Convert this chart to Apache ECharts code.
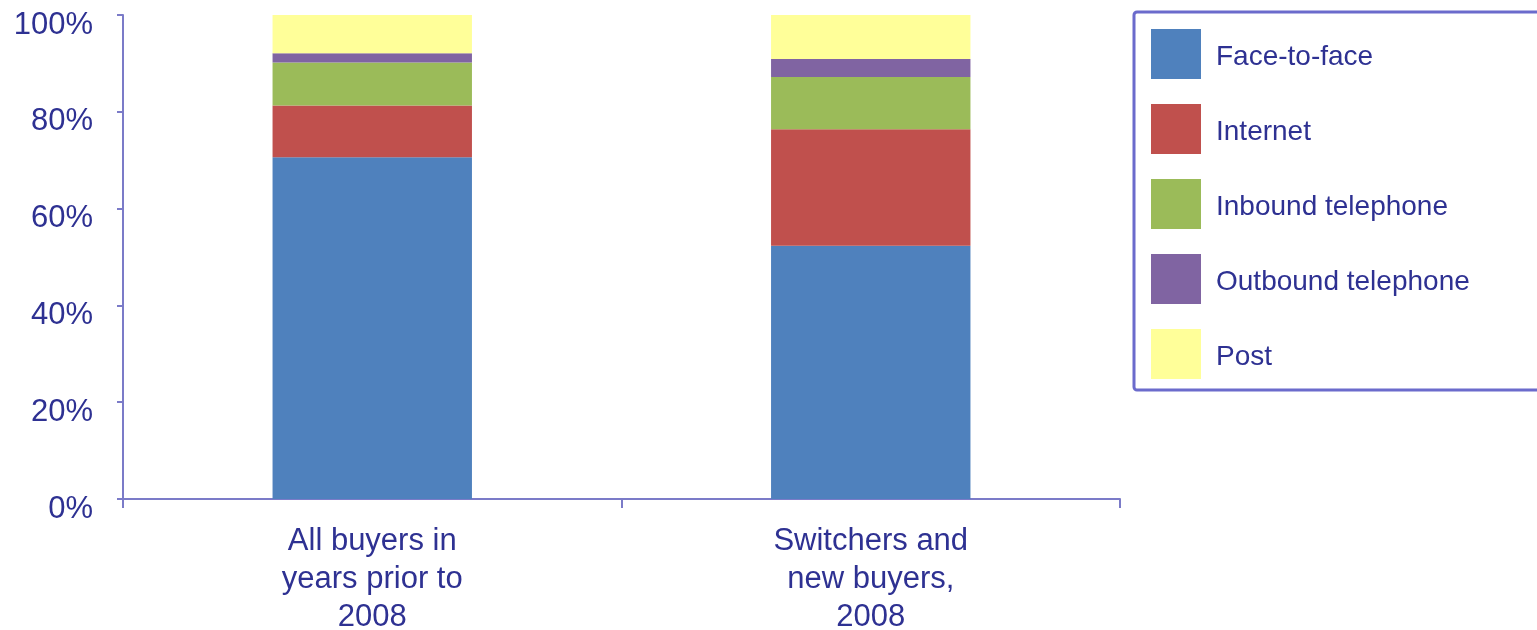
<!DOCTYPE html>
<html>
<head>
<meta charset="utf-8">
<script src="https://cdn.jsdelivr.net/npm/echarts@6/dist/echarts.min.js"></script>
<style>
  html, body { margin: 0; padding: 0; background: #fff; }
  #chart { width: 1537px; height: 630px; }
</style>
</head>
<body>
<div id="chart"></div>
<script>
  var categories = ['All buyers in\nyears prior to\n2008', 'Switchers and\nnew buyers,\n2008'];
  var seriesNames = ['Face-to-face', 'Internet', 'Inbound telephone', 'Outbound telephone', 'Post'];
  var faceToFace = [70.6, 52.3];
  var internet = [10.7, 24.1];
  var inbound = [8.9, 10.8];
  var outbound = [1.9, 3.7];
  var post = [7.9, 9.1];
  var colors = ['#4f81bd', '#c0504d', '#9bbb59', '#8064a2', '#ffff99'];

  var textColor = '#2e3192';
  var axisColor = '#7b7bc8';

  var values = [faceToFace, internet, inbound, outbound, post];
  var series = [];
  for (var i = 0; i < seriesNames.length; i++) {
    series.push({
      name: seriesNames[i],
      type: 'bar',
      stack: 'total',
      barWidth: '40%',
      data: values[i],
      itemStyle: { color: colors[i] }
    });
  }

  var chart = echarts.init(document.getElementById('chart'));
  chart.setOption({
    animation: false,
    grid: { left: 123, right: 417, top: 15, bottom: 131, outerBoundsMode: 'none', containLabel: false },
    legend: {
      orient: 'vertical',
      left: 1134,
      top: 12,
      padding: [17, 80, 11, 17],
      itemWidth: 50,
      itemHeight: 50,
      itemGap: 25,
      borderColor: '#6b6bcc',
      borderWidth: 3,
      borderRadius: 3,
      icon: 'rect',
      data: seriesNames,
      formatter: '{t|{name}}',
      textStyle: {
        color: textColor,
        fontFamily: 'Liberation Sans, Arial, sans-serif',
        fontSize: 28,
        rich: {
          t: {
            color: textColor,
            fontFamily: 'Liberation Sans, Arial, sans-serif',
            fontSize: 28,
            padding: [7, 0, 0, 10]
          }
        }
      }
    },
    xAxis: {
      type: 'category',
      data: categories,
      axisLine: { lineStyle: { color: axisColor, width: 2 } },
      axisTick: { show: true, length: 9, lineStyle: { color: axisColor, width: 2 } },
      axisLabel: {
        color: textColor,
        fontFamily: 'Liberation Sans, Arial, sans-serif',
        fontSize: 31,
        lineHeight: 38,
        margin: 23
      }
    },
    yAxis: {
      type: 'value',
      min: 0,
      max: 100,
      interval: 20,
      axisLine: { show: true, lineStyle: { color: axisColor, width: 2 } },
      axisTick: { show: true, length: 6, lineStyle: { color: axisColor, width: 2 } },
      splitLine: { show: false },
      axisLabel: {
        formatter: '{value}%',
        color: textColor,
        fontFamily: 'Liberation Sans, Arial, sans-serif',
        fontSize: 31,
        verticalAlign: 'top',
        lineHeight: 20,
        margin: 30
      }
    },
    series: series
  });
</script>
</body>
</html>
